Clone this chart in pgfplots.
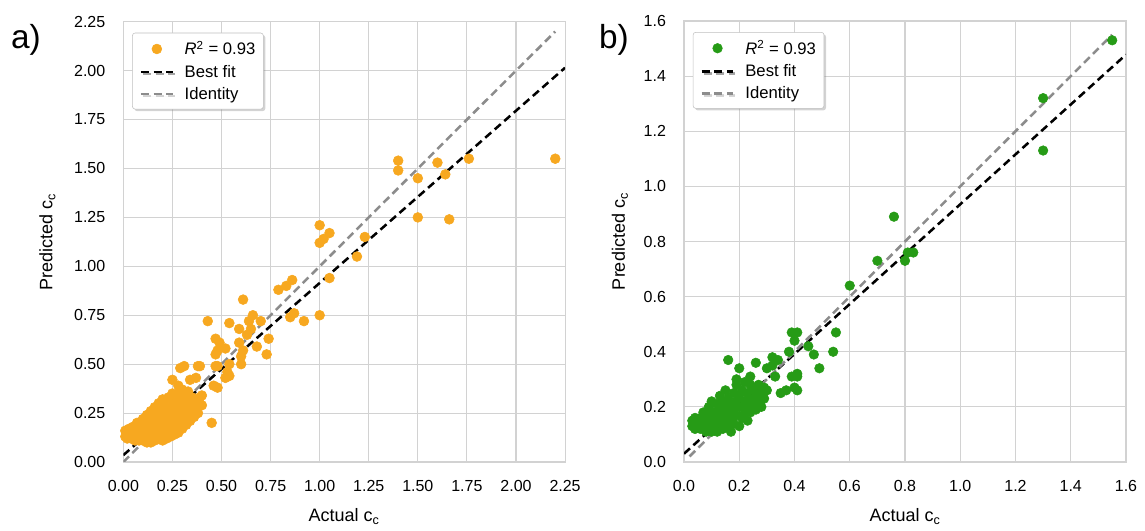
\documentclass[border=0pt]{standalone}
\usepackage{fontspec}
\setmainfont{Liberation Sans}
\usepackage{pgfplots}
\pgfplotsset{compat=1.18}
\usetikzlibrary{shadows}
\definecolor{orng}{RGB}{247,168,32}
\definecolor{grn}{RGB}{38,155,22}
\definecolor{gridc}{RGB}{210,210,210}
\definecolor{idc}{RGB}{140,140,140}
\pgfplotsset{
 myax/.style={
  scale only axis, anchor=south west,
  grid=major, major grid style={gridc, line width=0.8pt},
  axis line style={gridc, line width=0.8pt},
  major tick length=0pt,
  tick label style={font=\fontsize{12}{14}\selectfont},
  /pgf/number format/assume math mode=true,
  xticklabel style={yshift=-10pt},
  yticklabel style={xshift=-10pt},
  label style={font=\fontsize{13.5}{16}\selectfont},
  legend style={at={(0.02,0.975)}, anchor=north west, draw=gray!50, rounded corners=2pt, fill=white,
    drop shadow={shadow xshift=1.5pt, shadow yshift=-1.5pt, opacity=0.35},
    font=\fontsize{12.5}{15}\selectfont, row sep=2pt, inner sep=4pt},
  legend cell align=left,
  legend image code/.code={\draw[mark repeat=2,mark phase=2,#1] plot coordinates {(0cm,0cm) (0.42cm,0cm) (0.84cm,0cm)}; \path (-0.05cm,0cm) (1.05cm,0cm);},
 },
 fitl/.style={black, line width=1.9pt, dash pattern=on 6pt off 3.5pt},
 idl/.style={idc, line width=1.9pt, dash pattern=on 6pt off 3.5pt},
}
\begin{document}
\begin{tikzpicture}
\useasboundingbox (0,0) rectangle (858.75pt,398.25pt);
\node[font=\fontsize{25}{30}\selectfont] at (19.5pt,368.25pt) {a)};
\node[font=\fontsize{25}{30}\selectfont] at (460.5pt,368.25pt) {b)};
% ---------------- panel a
\begin{axis}[myax, at={(92.5pt,51.75pt)}, width=331.3pt, height=330.2pt,
  xmin=0, xmax=2.25, ymin=0, ymax=2.25,
  xtick={0,0.25,0.5,0.75,1,1.25,1.5,1.75,2,2.25},
  ytick={0,0.25,0.5,0.75,1,1.25,1.5,1.75,2,2.25},
  xticklabel style={/pgf/number format/.cd, fixed, fixed zerofill, precision=2},
  yticklabel style={/pgf/number format/.cd, fixed, fixed zerofill, precision=2},
  xlabel={Actual c\textsubscript{c}}, ylabel={Predicted c\textsubscript{c}},
  xlabel style={at={(axis description cs:0.5,-0.124)}, anchor=center},
  ylabel style={at={(axis description cs:-0.172,0.5)}, anchor=center},
]
\addplot[only marks, mark=*, mark size=3.7pt, color=orng] table {
x y
2.20 1.55
1.76 1.55
1.60 1.53
1.40 1.54
1.40 1.49
1.50 1.45
1.64 1.47
1.50 1.25
1.66 1.24
1.23 1.15
1.19 1.05
1.05 1.17
1.00 1.21
1.00 1.12
1.02 1.14
1.05 0.94
1.00 0.75
0.92 0.72
0.87 0.76
0.85 0.74
0.86 0.93
0.83 0.90
0.79 0.88
0.61 0.83
0.43 0.72
0.54 0.71
0.59 0.68
0.66 0.75
0.64 0.72
0.70 0.72
0.65 0.68
0.63 0.65
0.74 0.63
0.68 0.59
0.73 0.55
0.47 0.63
0.49 0.61
0.48 0.57
0.52 0.58
0.47 0.55
0.59 0.61
0.61 0.57
0.60 0.54
0.60 0.50
0.54 0.50
0.48 0.49
0.53 0.46
0.52 0.43
0.54 0.44
0.48 0.38
0.46 0.39
0.29 0.48
0.31 0.49
0.39 0.49
0.38 0.49
0.25 0.42
0.34 0.42
0.37 0.43
0.28 0.39
0.39 0.33
0.45 0.20
0.47 0.49
0.01 0.13
0.01 0.16
0.02 0.12
0.02 0.15
0.03 0.14
0.03 0.17
0.04 0.12
0.04 0.16
0.05 0.13
0.05 0.18
0.06 0.11
0.06 0.15
0.07 0.13
0.07 0.17
0.07 0.20
0.08 0.11
0.08 0.15
0.09 0.13
0.09 0.19
0.10 0.11
0.10 0.16
0.10 0.22
0.11 0.13
0.11 0.19
0.12 0.10
0.12 0.15
0.12 0.24
0.13 0.12
0.13 0.18
0.13 0.21
0.14 0.10
0.14 0.15
0.14 0.26
0.15 0.13
0.15 0.19
0.15 0.23
0.16 0.11
0.16 0.16
0.16 0.28
0.17 0.14
0.17 0.21
0.17 0.25
0.18 0.12
0.18 0.18
0.18 0.30
0.19 0.15
0.19 0.23
0.19 0.27
0.20 0.11
0.20 0.19
0.20 0.32
0.21 0.14
0.21 0.25
0.21 0.29
0.22 0.12
0.22 0.17
0.22 0.21
0.23 0.15
0.23 0.27
0.23 0.33
0.24 0.13
0.24 0.19
0.24 0.23
0.25 0.16
0.25 0.29
0.25 0.35
0.26 0.14
0.26 0.21
0.26 0.25
0.27 0.18
0.27 0.31
0.28 0.15
0.28 0.23
0.28 0.27
0.28 0.35
0.29 0.20
0.29 0.33
0.30 0.17
0.30 0.25
0.30 0.29
0.30 0.37
0.31 0.22
0.31 0.34
0.32 0.19
0.32 0.27
0.32 0.31
0.33 0.24
0.33 0.36
0.34 0.21
0.34 0.29
0.35 0.26
0.35 0.33
0.36 0.23
0.36 0.30
0.37 0.27
0.38 0.32
0.38 0.25
0.40 0.29
0.40 0.34
};
\addlegendentry{\textit{R}\textsuperscript{2} = 0.93}
\addplot[fitl] coordinates {(0,0.035) (2.25,2.015)};
\addlegendentry{Best fit}
\addplot[idl] coordinates {(0,0) (2.2,2.2)};
\addlegendentry{Identity}
\end{axis}
% ---------------- panel b
\begin{axis}[myax, at={(513pt,51.75pt)}, width=331.5pt, height=330.75pt,
  xmin=0, xmax=1.6, ymin=0, ymax=1.6,
  xtick={0,0.2,0.4,0.6,0.8,1,1.2,1.4,1.6},
  ytick={0,0.2,0.4,0.6,0.8,1,1.2,1.4,1.6},
  xticklabel style={/pgf/number format/.cd, fixed, fixed zerofill, precision=1},
  yticklabel style={/pgf/number format/.cd, fixed, fixed zerofill, precision=1},
  xlabel={Actual c\textsubscript{c}}, ylabel={Predicted c\textsubscript{c}},
  xlabel style={at={(axis description cs:0.5,-0.124)}, anchor=center},
  ylabel style={at={(axis description cs:-0.145,0.5)}, anchor=center},
]
\addplot[only marks, mark=*, mark size=3.6pt, color=grn] table {
x y
1.55 1.53
1.30 1.32
1.30 1.13
0.76 0.89
0.70 0.73
0.81 0.76
0.80 0.73
0.83 0.76
0.60 0.64
0.39 0.47
0.41 0.47
0.40 0.44
0.55 0.47
0.38 0.40
0.45 0.42
0.47 0.39
0.54 0.40
0.49 0.34
0.39 0.31
0.41 0.31
0.40 0.27
0.35 0.25
0.32 0.38
0.32 0.35
0.33 0.31
0.30 0.34
0.26 0.36
0.16 0.37
0.20 0.34
0.24 0.31
0.19 0.30
0.34 0.37
0.37 0.26
0.41 0.26
0.41 0.32
0.03 0.13
0.03 0.15
0.04 0.12
0.04 0.16
0.05 0.14
0.06 0.12
0.06 0.16
0.07 0.14
0.07 0.18
0.08 0.11
0.08 0.15
0.09 0.13
0.09 0.17
0.09 0.20
0.10 0.11
0.10 0.15
0.10 0.22
0.11 0.13
0.11 0.18
0.12 0.11
0.12 0.16
0.12 0.21
0.13 0.14
0.13 0.19
0.13 0.24
0.14 0.12
0.14 0.17
0.14 0.22
0.15 0.15
0.15 0.20
0.15 0.26
0.16 0.13
0.16 0.18
0.16 0.23
0.17 0.11
0.17 0.16
0.17 0.21
0.18 0.14
0.18 0.19
0.18 0.25
0.19 0.17
0.19 0.22
0.19 0.28
0.20 0.13
0.20 0.20
0.20 0.24
0.21 0.16
0.21 0.26
0.22 0.18
0.22 0.22
0.22 0.29
0.23 0.15
0.23 0.20
0.23 0.25
0.24 0.18
0.24 0.23
0.24 0.28
0.25 0.21
0.25 0.26
0.26 0.19
0.26 0.24
0.27 0.22
0.27 0.28
0.28 0.20
0.28 0.25
0.29 0.23
0.29 0.27
0.30 0.26
};
\addlegendentry{\textit{R}\textsuperscript{2} = 0.93}
\addplot[fitl] coordinates {(0,0.03) (1.6,1.478)};
\addlegendentry{Best fit}
\addplot[idl] coordinates {(0.02,0.02) (1.55,1.55)};
\addlegendentry{Identity}
\end{axis}
\end{tikzpicture}
\end{document}
